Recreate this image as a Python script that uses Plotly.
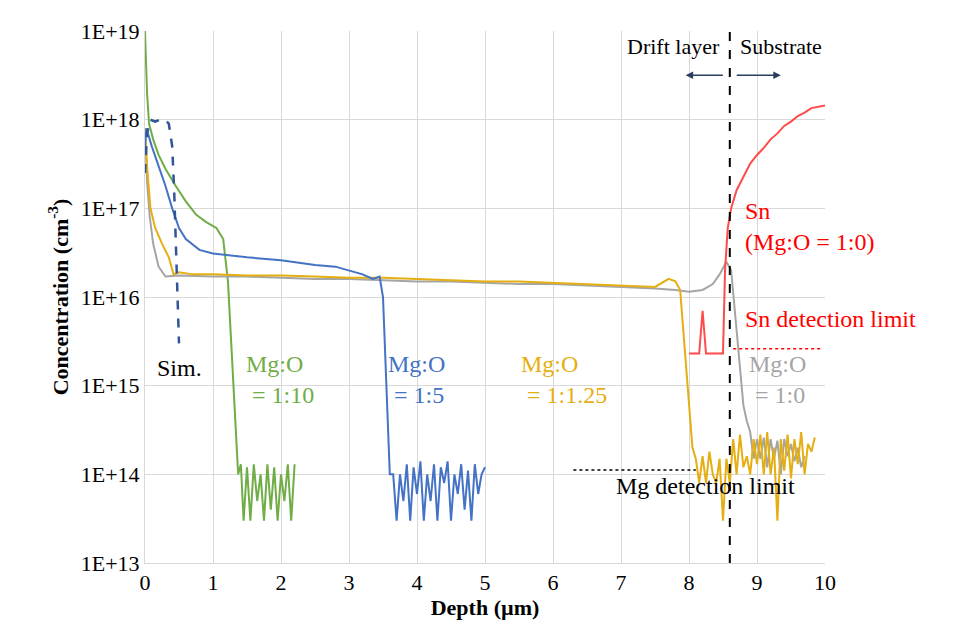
import numpy as np
import plotly.graph_objects as go

# SIMS depth profiles (depth in um, concentration in cm^-3)
green_x = [0, 0.03, 0.06, 0.12, 0.2, 0.3, 0.45, 0.6, 0.75, 0.9, 1.05, 1.15, 1.22, 1.28, 1.33, 1.37, 1.41,
           1.45, 1.5, 1.55, 1.6, 1.65, 1.7, 1.75, 1.8, 1.85, 1.9, 1.95, 2.0, 2.05, 2.1, 2.15, 2.2]
green_y = [1e19, 2e18, 9e17, 6e17, 4e17, 2.8e17, 1.8e17, 1.2e17, 8.5e16, 7e16, 6e16, 4.5e16, 1.5e16, 2e15, 3e14, 1e14, 1.3e14,
           3e13, 1.2e14, 3e13, 1.3e14, 5e13, 1e14, 3e13, 1.3e14, 4e13, 1.2e14, 3e13, 1e14, 5e13, 1.3e14, 3e13, 1.3e14]

blue_x = [0, 0.02, 0.1, 0.2, 0.3, 0.4, 0.5, 0.6, 0.8, 1.0, 1.5, 2.0, 2.5, 2.8, 3.0, 3.2, 3.35, 3.45, 3.5, 3.55, 3.6, 3.65,
          3.7, 3.75, 3.8, 3.85, 3.9, 3.95, 4.0, 4.05, 4.1, 4.15, 4.2, 4.25, 4.3, 4.35, 4.4, 4.45, 4.5, 4.55, 4.6, 4.65,
          4.7, 4.75, 4.8, 4.85, 4.9, 4.95, 5.0]
blue_y = [5e17, 8e17, 5e17, 3e17, 1.8e17, 1e17, 6e16, 4.5e16, 3.4e16, 3.1e16, 2.8e16, 2.6e16, 2.3e16, 2.2e16, 2.0e16, 1.8e16, 1.6e16, 1.7e16, 1e16, 1e15, 1e14, 1e14,
          3e13, 1e14, 5e13, 1.3e14, 3e13, 1.2e14, 6e13, 1.4e14, 3e13, 1e14, 5e13, 1.3e14, 3e13, 1.2e14, 8e13, 1.4e14, 3e13, 1e14, 6e13, 1.3e14,
          4e13, 1.1e14, 3e13, 1.3e14, 6e13, 1e14, 1.2e14]

sim_x = [0, 0.03, 0.08, 0.15, 0.22, 0.3, 0.35, 0.4, 0.43, 0.45, 0.47, 0.49, 0.5]
sim_y = [2.5e17, 7e17, 1e18, 9.5e17, 1e18, 1e18, 9e17, 5e17, 1.5e17, 4e16, 1.5e16, 5e15, 3e15]

yellow_x = [0, 0.03, 0.08, 0.15, 0.25, 0.35, 0.42, 0.5, 0.7, 1.0, 1.5, 2.0, 2.5, 3.0, 3.5, 4.0, 4.5, 5.0, 5.5, 6.0,
            6.5, 7.0, 7.5, 7.7, 7.8, 7.87, 7.93, 8.0, 8.05, 8.1, 8.15, 8.2, 8.25, 8.3, 8.35, 8.4, 8.45, 8.5, 8.55,
            8.6, 8.65, 8.7, 8.75, 8.8, 8.85, 8.9, 8.95, 9.0, 9.05, 9.1, 9.15, 9.2, 9.25, 9.3, 9.35, 9.4, 9.45, 9.5,
            9.55, 9.6, 9.65, 9.7, 9.75, 9.8, 9.85]
yellow_y = [8e17, 3e17, 1e17, 6e16, 4e16, 2.8e16, 1.8e16, 1.9e16, 1.8e16, 1.8e16, 1.75e16, 1.75e16, 1.7e16, 1.65e16, 1.65e16, 1.6e16, 1.55e16, 1.5e16, 1.5e16, 1.45e16,
            1.4e16, 1.35e16, 1.3e16, 1.6e16, 1.5e16, 1.2e16, 3e15, 5e14, 2e14, 1.5e14, 8e13, 1.6e14, 8e13, 1.8e14, 1e14, 8e13, 1.5e14, 3e13, 1.5e14,
            8e13, 2.5e14, 1e14, 2.8e14, 1.2e14, 1.6e14, 1e14, 2.5e14, 1.3e14, 2.8e14, 1e14, 3e14, 1e14, 2e14, 3e13, 2.5e14, 1.1e14, 2.8e14, 9e13,
            2.5e14, 1.3e14, 3e14, 1e14, 2.2e14, 1.8e14, 2.6e14]

gray_x = [0, 0.03, 0.07, 0.12, 0.2, 0.3, 0.5, 1.0, 1.5, 2.0, 2.5, 3.0, 3.5, 4.0, 4.5, 5.0, 5.5, 6.0, 6.5, 7.0, 7.5,
          7.8, 8.0, 8.2, 8.35, 8.45, 8.55, 8.62, 8.68, 8.75, 8.8, 8.85, 8.9, 8.95, 9.0, 9.05, 9.1, 9.15, 9.2, 9.25,
          9.3, 9.35, 9.4, 9.45, 9.5, 9.55, 9.6, 9.65, 9.7]
gray_y = [8e17, 2e17, 8e16, 4e16, 2.2e16, 1.7e16, 1.75e16, 1.7e16, 1.7e16, 1.65e16, 1.6e16, 1.6e16, 1.55e16, 1.5e16, 1.5e16, 1.45e16, 1.4e16, 1.4e16, 1.35e16, 1.3e16, 1.25e16,
          1.2e16, 1.15e16, 1.2e16, 1.4e16, 1.8e16, 2.5e16, 2e16, 6e15, 1.5e15, 6e14, 4e14, 3e14, 1.5e14, 2.5e14, 1.5e14, 2.6e14, 1.2e14, 2.5e14, 1.5e14,
          2.4e14, 1e14, 2.5e14, 1.6e14, 2.2e14, 1.4e14, 2e14, 1.2e14, 1.6e14]

red_x = [8.0, 8.15, 8.2, 8.25, 8.5, 8.53, 8.57, 8.62, 8.7, 8.8, 8.9, 9.0, 9.1, 9.2, 9.3, 9.4, 9.5, 9.6, 9.7, 9.8, 9.9, 10.0]
red_y = [2.3e15, 2.3e15, 7e15, 2.3e15, 2.3e15, 2e16, 6e16, 1e17, 1.6e17, 2.3e17, 3.2e17, 4e17, 4.8e17, 6e17, 7e17, 8.5e17, 9.5e17, 1.1e18, 1.2e18, 1.35e18, 1.4e18, 1.45e18]

ytick_vals = [1e13, 1e14, 1e15, 1e16, 1e17, 1e18, 1e19]
ytick_text = ["1E+13", "1E+14", "1E+15", "1E+16", "1E+17", "1E+18", "1E+19"]

serif = "Liberation Serif"
fig = go.Figure()
fig.add_trace(go.Scatter(x=green_x, y=green_y, mode='lines', line=dict(color='#70AD47', width=2)))
fig.add_trace(go.Scatter(x=gray_x, y=gray_y, mode='lines', line=dict(color='#A5A5A5', width=2)))
fig.add_trace(go.Scatter(x=yellow_x, y=yellow_y, mode='lines', line=dict(color='#E5AE12', width=2)))
fig.add_trace(go.Scatter(x=blue_x, y=blue_y, mode='lines', line=dict(color='#4472C4', width=2)))
fig.add_trace(go.Scatter(x=sim_x, y=sim_y, mode='lines', line=dict(color='#2F5597', width=2.5, dash='dash')))
fig.add_trace(go.Scatter(x=red_x, y=red_y, mode='lines', line=dict(color='#FF4B4B', width=2)))

# detection limits and layer boundary
fig.add_trace(go.Scatter(x=[6.3, 8.1], y=[1.12e14, 1.12e14], mode='lines', line=dict(color='black', width=1.5, dash='dot')))
fig.add_trace(go.Scatter(x=[8.65, 9.95], y=[2.6e15, 2.6e15], mode='lines', line=dict(color='red', width=1.5, dash='dot')))
fig.add_shape(type='line', x0=8.6, x1=8.6, y0=0, y1=1, yref='paper', line=dict(color='black', width=2, dash='dash'))

labels = [
    (0.5, 15.2, "Sim.", 'black', 'center'),
    (1.45, 15.07, "Mg:O<br> = 1:10", '#70AD47', 'left'),
    (3.55, 15.07, "Mg:O<br> = 1:5", '#4472C4', 'left'),
    (5.5, 15.07, "Mg:O<br> = 1:1.25", '#E5AE12', 'left'),
    (8.85, 15.07, "Mg:O<br> = 1:0", '#A5A5A5', 'left'),
]
for x, ly, t, c, xa in labels:
    fig.add_annotation(x=x, y=ly, text=t, showarrow=False, xanchor=xa, align='left',
                       font=dict(family=serif, size=24, color=c))
fig.add_annotation(x=6.9, y=13.87, text="Mg detection limit", showarrow=False, xanchor='left',
                   font=dict(family=serif, size=24, color='black'))
fig.add_annotation(x=8.8, y=16.8, text="Sn<br>(Mg:O = 1:0)", showarrow=False, xanchor='left',
                   font=dict(family=serif, size=24, color='#FF0000'), align='left')
fig.add_annotation(x=8.8, y=15.75, text="Sn detection limit", showarrow=False, xanchor='left',
                   font=dict(family=serif, size=24, color='#FF0000'))
fig.add_annotation(x=8.48, y=18.82, text="Drift layer", showarrow=False, xanchor='right',
                   font=dict(family=serif, size=22, color='black'))
fig.add_annotation(x=8.72, y=18.82, text="Substrate", showarrow=False, xanchor='left',
                   font=dict(family=serif, size=22, color='black'))
fig.add_annotation(x=7.95, y=18.5, ax=8.52, ay=18.5, xref='x', yref='y', axref='x', ayref='y', text="",
                   showarrow=True, arrowhead=2, arrowwidth=1.5)
fig.add_annotation(x=9.35, y=18.5, ax=8.68, ay=18.5, xref='x', yref='y', axref='x', ayref='y', text="",
                   showarrow=True, arrowhead=2, arrowwidth=1.5)

fig.update_layout(
    width=976, height=634, showlegend=False,
    plot_bgcolor='white', paper_bgcolor='white',
    margin=dict(l=137, r=159, t=23, b=79),
    font=dict(family=serif, size=22, color='black'),
)
fig.update_xaxes(range=[0, 10], dtick=1, showgrid=True, gridcolor='#D9D9D9', zeroline=False,
                 showline=True, linecolor='#D9D9D9', ticks='', tickfont=dict(size=22),
                 title=dict(text="<b>Depth (µm)</b>", font=dict(size=22), standoff=2))
fig.update_yaxes(type='log', range=[13, 19], tickvals=ytick_vals, ticktext=ytick_text, showgrid=True,
                 gridcolor='#D9D9D9', zeroline=False, showline=True, linecolor='#D9D9D9', ticks='',
                 tickfont=dict(size=22),
                 title=dict(text="<b>Concentration (cm<sup>-3</sup>)</b>", font=dict(size=22), standoff=6))

fig.write_html("out.html")
